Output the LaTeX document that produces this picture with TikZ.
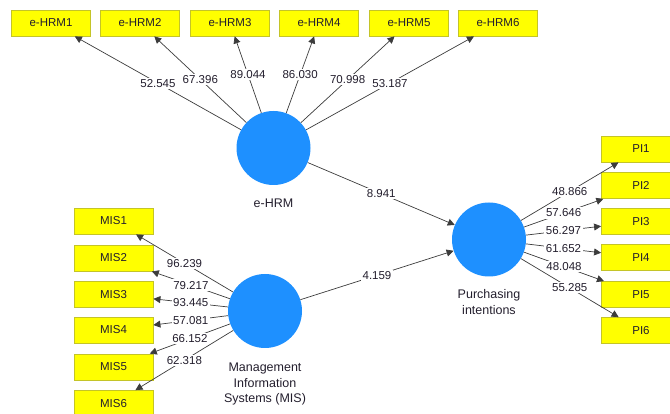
\documentclass[tikz,border=0pt]{standalone}
\usepackage{fontspec}
\setmainfont{Liberation Sans}
\usetikzlibrary{positioning,arrows.meta}
\definecolor{jaune}{RGB}{255,255,0}
\definecolor{bordjaune}{RGB}{196,196,40}
\definecolor{bleu}{RGB}{30,144,255}
\definecolor{trait}{RGB}{60,60,60}
\definecolor{texte}{RGB}{35,30,45}
\tikzset{
  indic/.style={rectangle,fill=jaune,draw=bordjaune,line width=0.8pt,minimum width=79pt,minimum height=26pt,inner sep=0pt,font=\fontsize{11.5}{13}\selectfont,text=texte},
  latente/.style={circle,fill=bleu,minimum size=74pt,inner sep=0pt},
  nomvar/.style={inner sep=0pt,align=center,font=\fontsize{12.5}{16}\selectfont,text=texte},
  coef/.style={fill=white,inner sep=1.5pt,font=\fontsize{11.5}{13}\selectfont,text=texte},
  fleche/.style={draw=trait,line width=0.7pt,-{Triangle[length=7pt,width=7pt]}}
}
\begin{document}
\begin{tikzpicture}[x=1pt,y=-1pt]
\useasboundingbox (0,0) rectangle (670,414);
% variables latentes
\node[latente] (ehrm) at (273.5,148) {};
\node[latente] (mis) at (265,311) {};
\node[latente] (pi) at (489,239.5) {};
\node[nomvar,below=14pt of ehrm] (ehrmtxt) {e-HRM};
\node[nomvar,below=14pt of mis] (mistxt) {Management\\Information\\Systems (MIS)};
\node[nomvar,below=13pt of pi] (pitxt) {Purchasing\\intentions};
% indicateurs e-HRM
\node[indic] (ehrm1) at (51,23) {e-HRM1};
\node[indic] (ehrm2) at (140,23) {e-HRM2};
\node[indic] (ehrm3) at (230,23) {e-HRM3};
\node[indic] (ehrm4) at (319,23) {e-HRM4};
\node[indic] (ehrm5) at (409,23) {e-HRM5};
\node[indic] (ehrm6) at (498,23) {e-HRM6};
% indicateurs MIS
\node[indic] (mis1) at (113.5,221) {MIS1};
\node[indic] (mis2) at (113.5,258) {MIS2};
\node[indic] (mis3) at (113.5,294.5) {MIS3};
\node[indic] (mis4) at (113.5,330) {MIS4};
\node[indic] (mis5) at (113.5,367) {MIS5};
\node[indic] (mis6) at (113.5,403.5) {MIS6};
% indicateurs PI
\node[indic] (pi1) at (641,149) {PI1};
\node[indic] (pi2) at (641,185.5) {PI2};
\node[indic] (pi3) at (641,221.5) {PI3};
\node[indic] (pi4) at (641,257.5) {PI4};
\node[indic] (pi5) at (641,294.5) {PI5};
\node[indic] (pi6) at (641,330.5) {PI6};
% fleches
\draw[fleche] (ehrm) -- node[coef]{52.545} (ehrm1);
\draw[fleche] (ehrm) -- node[coef]{67.396} (ehrm2);
\draw[fleche] (ehrm) -- node[coef]{89.044} (ehrm3);
\draw[fleche] (ehrm) -- node[coef]{86.030} (ehrm4);
\draw[fleche] (ehrm) -- node[coef]{70.998} (ehrm5);
\draw[fleche] (ehrm) -- node[coef]{53.187} (ehrm6);
\draw[fleche] (mis) -- node[coef]{96.239} (mis1);
\draw[fleche] (mis) -- node[coef]{79.217} (mis2);
\draw[fleche] (mis) -- node[coef]{93.445} (mis3);
\draw[fleche] (mis) -- node[coef]{57.081} (mis4);
\draw[fleche] (mis) -- node[coef]{66.152} (mis5);
\draw[fleche] (mis) -- node[coef]{62.318} (mis6);
\draw[fleche] (pi) -- node[coef]{48.866} (pi1);
\draw[fleche] (pi) -- node[coef]{57.646} (pi2);
\draw[fleche] (pi) -- node[coef]{56.297} (pi3);
\draw[fleche] (pi) -- node[coef]{61.652} (pi4);
\draw[fleche] (pi) -- node[coef]{48.048} (pi5);
\draw[fleche] (pi) -- node[coef]{55.285} (pi6);
\draw[fleche] (ehrm) -- node[coef]{8.941} (pi);
\draw[fleche] (mis) -- node[coef]{4.159} (pi);
\end{tikzpicture}
\end{document}
